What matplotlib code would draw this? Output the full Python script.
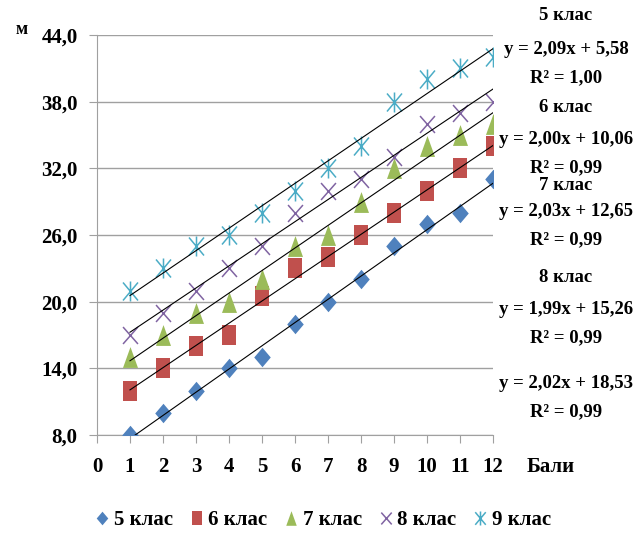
import matplotlib.pyplot as plt
from matplotlib.path import Path
from matplotlib.ticker import FuncFormatter

plt.rcParams['font.family'] = 'Liberation Serif'
plt.rcParams['font.weight'] = 'bold'

bali = [1, 2, 3, 4, 5, 6, 7, 8, 9, 10, 11, 12]
klas5 = [8, 10, 12, 14, 15, 18, 20, 22, 25, 27, 28, 31]
klas6 = [12, 14, 16, 17, 20.5, 23, 24, 26, 28, 30, 32, 34]
klas7 = [15, 17, 19, 20, 22, 25, 26, 29, 32, 34, 35, 36]
klas8 = [17, 19, 21, 23, 25, 28, 30, 31, 33, 36, 37, 38]
klas9 = [21, 23, 25, 26, 28, 30, 32, 34, 38, 40, 41, 42]
names = ['5 клас', '6 клас', '7 клас', '8 клас', '9 клас']
slopes = [2.09, 2.00, 2.03, 1.99, 2.02]
intercepts = [5.58, 10.06, 12.65, 15.26, 18.53]

# маркери трохи витягнуті по вертикалі, як на оригіналі
diamond = Path([(0, 1), (0.85, 0), (0, -1), (-0.85, 0), (0, 1)], closed=True)
square = Path([(-0.7, -1), (0.7, -1), (0.7, 1), (-0.7, 1), (-0.7, -1)], closed=True)
triangle = Path([(0, 1), (0.72, -1), (-0.72, -1), (0, 1)], closed=True)
cross = Path([(-0.88, -1), (0.88, 1), (-0.88, 1), (0.88, -1)],
             [Path.MOVETO, Path.LINETO, Path.MOVETO, Path.LINETO])
star = Path([(-0.75, -0.9), (0.75, 0.9), (-0.75, 0.9), (0.75, -0.9), (0, -1), (0, 1)],
            [Path.MOVETO, Path.LINETO, Path.MOVETO, Path.LINETO, Path.MOVETO, Path.LINETO])

styles = [
    dict(marker=diamond, color='#4F81BD', ms=14, mew=0),
    dict(marker=square, color='#C0504D', ms=14.4, mew=0),
    dict(marker=triangle, color='#9BBB59', ms=15, mew=0),
    dict(marker=cross, color='#8064A2', ms=12.2, mew=1.1),
    dict(marker=star, color='#4BACC6', ms=14.4, mew=1.1),
]

fig = plt.figure(figsize=(6.44, 5.46), dpi=100)
ax = fig.add_axes([0.1506, 0.2033, 0.615, 0.7326])

data = [klas5, klas6, klas7, klas8, klas9]
handles = []
for y, st, name, k, b in zip(data, styles, names, slopes, intercepts):
    h, = ax.plot(bali, y, linestyle='none', label=name, zorder=3, **st)
    handles.append(h)
    ax.plot([bali[0], bali[-1]], [k * bali[0] + b, k * bali[-1] + b],
            color='black', lw=0.8, zorder=4)

ax.set_xlim(0, 12)
ax.set_ylim(8, 44)
ax.set_xticks(range(0, 13))
ax.set_yticks([8, 14, 20, 26, 32, 38, 44])
ax.yaxis.set_major_formatter(FuncFormatter(lambda v, p: f'{v:.1f}'.replace('.', ',')))
ax.grid(axis='y', color='#A0A0A0', lw=1)
ax.set_axisbelow(True)
for s in ['top', 'right']:
    ax.spines[s].set_visible(False)
for s in ['left', 'bottom']:
    ax.spines[s].set_color('#A0A0A0')
ax.tick_params(axis='both', colors='#A0A0A0', length=6, labelcolor='black', labelsize=15)
ax.tick_params(axis='y', pad=8)
ax.tick_params(axis='x', pad=10)

fig.text(22 / 644, 1 - 30 / 546, 'м', fontsize=13, ha='center', va='center')
fig.text(551 / 644, 1 - 467 / 546, 'Бали', fontsize=15, ha='center', va='center')

lines = [('5 клас', 15), ('y = 2,09x + 5,58', 49), ('R² = 1,00', 78),
         ('6 клас', 108), ('y = 2,00x + 10,06', 140), ('R² = 0,99', 168),
         ('7 клас', 186), ('y = 2,03x + 12,65', 212), ('R² = 0,99', 240),
         ('8 клас', 278), ('y = 1,99x + 15,26', 310), ('R² = 0,99', 338),
         ('y = 2,02x + 18,53', 383), ('R² = 0,99', 412)]
for t, py in lines:
    fig.text(566 / 644, 1 - py / 546, t, fontsize=13.5, ha='center', va='center')

fig.legend(handles=handles, loc='center', bbox_to_anchor=(0.5, 1 - 520 / 546),
           ncol=5, frameon=False, fontsize=15, handletextpad=0.1,
           columnspacing=0.7, handlelength=0.9, markerscale=0.7)

fig.savefig('out.png', dpi=100)
